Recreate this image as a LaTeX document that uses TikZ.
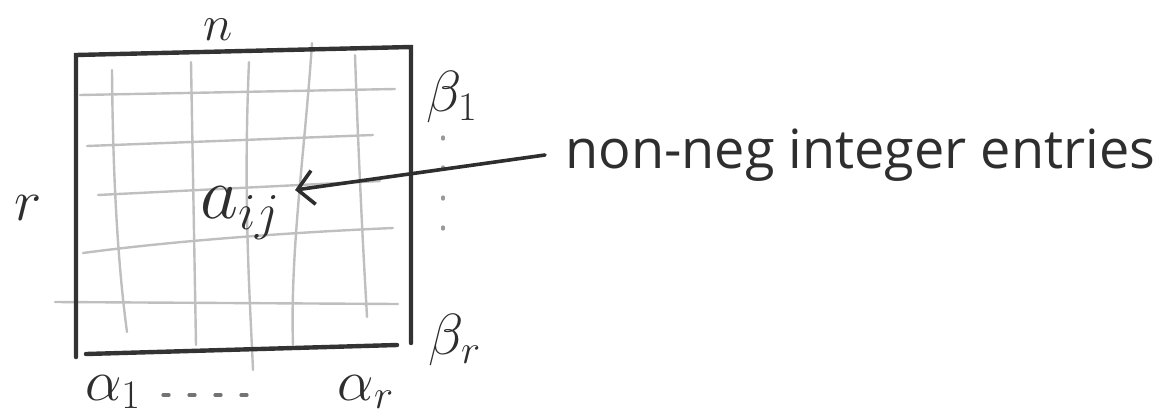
\RequirePackage{fix-cm}
\documentclass[tikz,border=0pt]{standalone}
\usepackage{fontspec}
\newfontfamily\hand{Open Sans}
\usetikzlibrary{arrows.meta}
\begin{document}
\begin{tikzpicture}[x=0.5pt,y=-0.5pt,
  frame/.style={line width=2.2pt, draw=black!80, line cap=round},
  gridline/.style={line width=1.2pt, draw=black!25, line cap=round},
  lab/.style={inner sep=0pt, text=black!82, font=\fontsize{29}{31}\selectfont},
  conn/.style={line width=1.8pt, draw=black!82, line cap=round,
    -{Straight Barb[length=8pt,width=17pt,line width=1.8pt]}},
  dotline/.style={line width=1.6pt, draw=black!40, line cap=round, dash pattern=on 1pt off 14pt}]
\useasboundingbox (0,0) rectangle (1165,418);
% grid lines
\draw[gridline] (80,95) -- (395,89);
\draw[gridline] (87,146) -- (373,135);
\draw[gridline] (98,195) -- (380,181);
\draw[gridline] (83,253) .. controls (180,240) and (300,232) .. (393,228);
\draw[gridline] (55,302) -- (398,304);
\draw[gridline] (112,70) .. controls (113,200) and (120,280) .. (127,332);
\draw[gridline] (191,62) -- (196,345);
\draw[gridline] (249,62) .. controls (243,200) and (250,300) .. (253,370);
\draw[gridline] (312,43) .. controls (305,150) and (290,250) .. (293,345);
\draw[gridline] (355,55) .. controls (360,200) and (365,280) .. (367,317);
% frame
\draw[frame] (76,357) -- (76,55) -- (411,47) -- (411,343);
\draw[frame] (86,354) -- (397,345);
% dotted marks
\draw[dotline] (443,137) -- (443,233);
\draw[dotline, draw=black!55, dash pattern=on 3pt off 10pt] (163,395) -- (255,395);
% labels
\node[lab, font=\fontsize{25}{27}\selectfont] (n) at (218,30) {$n$};
\node[lab] (r) at (28,208) {$r$};
\node[lab, anchor=base west, font=\fontsize{37}{39}\selectfont] (aij) at (200,218) {$a_{ij}$};
\node[lab] (b1) at (452,97) {$\beta_1$};
\node[lab] (br) at (455,340) {$\beta_r$};
\node[lab] (a1) at (113,392) {$\alpha_1$};
\node[lab] (ar) at (366,392) {$\alpha_r$};
\node[inner sep=0pt, inner xsep=10pt, anchor=west, text=black!82, font=\hand\fontsize{27}{30}\selectfont] (txt) at (545,155) {non-neg integer entries};
\draw[conn] (txt.west) -- ([xshift=7pt,yshift=14pt]aij.base east);
\end{tikzpicture}
\end{document}
